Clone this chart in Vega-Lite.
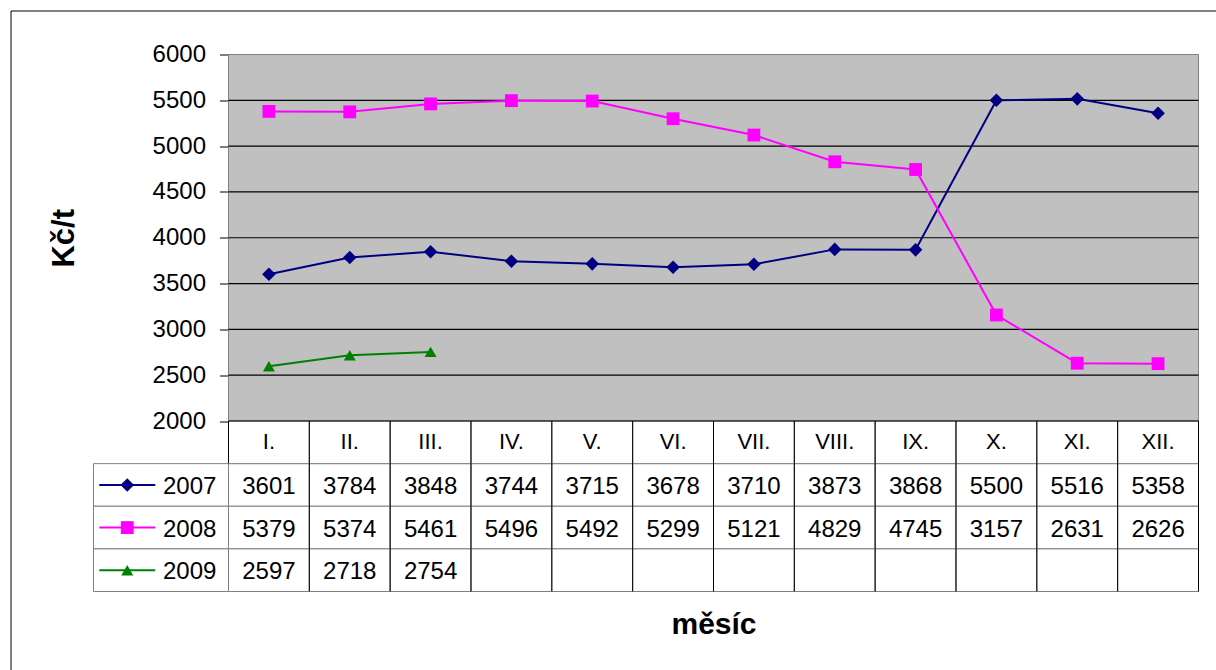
{
  "$schema": "https://vega.github.io/schema/vega-lite/v6.json",
  "width": 1216,
  "height": 670,
  "autosize": {"type": "fit", "contains": "padding"},
  "padding": {"left": 10.5, "top": 10.5, "right": 0, "bottom": 0},
  "background": "white",
  "config": {
    "view": {"stroke": "black", "strokeWidth": 1, "fill": "white"},
    "font": "Liberation Sans",
    "text": {"font": "Liberation Sans", "color": "black"},
    "axisY": {"offset": -218, "grid": false, "domainColor": "black", "domainWidth": 1,
              "tickColor": "black", "tickSize": 9, "labelPadding": 14,
              "labelFontSize": 24, "labelFont": "Liberation Sans", "labelColor": "black",
              "labelFlush": false, "labelOverlap": false,
              "titleFontSize": 31, "titleFont": "Liberation Sans", "titleFontWeight": "bold",
              "titleColor": "black", "titlePadding": 72},
    "axisX": {"offset": -79, "labels": false, "ticks": false, "domain": false, "grid": false,
              "titleFontSize": 30, "titleFont": "Liberation Sans", "titleFontWeight": "bold",
              "titleColor": "black", "titlePadding": 18}
  },
  "datasets": {
    "d": [
      {"m": "I.", "s": "2007", "v": 3601}, {"m": "II.", "s": "2007", "v": 3784}, {"m": "III.", "s": "2007", "v": 3848},
      {"m": "IV.", "s": "2007", "v": 3744}, {"m": "V.", "s": "2007", "v": 3715}, {"m": "VI.", "s": "2007", "v": 3678},
      {"m": "VII.", "s": "2007", "v": 3710}, {"m": "VIII.", "s": "2007", "v": 3873}, {"m": "IX.", "s": "2007", "v": 3868},
      {"m": "X.", "s": "2007", "v": 5500}, {"m": "XI.", "s": "2007", "v": 5516}, {"m": "XII.", "s": "2007", "v": 5358},
      {"m": "I.", "s": "2008", "v": 5379}, {"m": "II.", "s": "2008", "v": 5374}, {"m": "III.", "s": "2008", "v": 5461},
      {"m": "IV.", "s": "2008", "v": 5496}, {"m": "V.", "s": "2008", "v": 5492}, {"m": "VI.", "s": "2008", "v": 5299},
      {"m": "VII.", "s": "2008", "v": 5121}, {"m": "VIII.", "s": "2008", "v": 4829}, {"m": "IX.", "s": "2008", "v": 4745},
      {"m": "X.", "s": "2008", "v": 3157}, {"m": "XI.", "s": "2008", "v": 2631}, {"m": "XII.", "s": "2008", "v": 2626},
      {"m": "I.", "s": "2009", "v": 2597}, {"m": "II.", "s": "2009", "v": 2718}, {"m": "III.", "s": "2009", "v": 2754},
      {"m": "IV.", "s": "2009", "v": null}, {"m": "V.", "s": "2009", "v": null}, {"m": "VI.", "s": "2009", "v": null},
      {"m": "VII.", "s": "2009", "v": null}, {"m": "VIII.", "s": "2009", "v": null}, {"m": "IX.", "s": "2009", "v": null},
      {"m": "X.", "s": "2009", "v": null}, {"m": "XI.", "s": "2009", "v": null}, {"m": "XII.", "s": "2009", "v": null}
    ],
    "months": [
      {"m": "I."}, {"m": "II."}, {"m": "III."}, {"m": "IV."}, {"m": "V."}, {"m": "VI."},
      {"m": "VII."}, {"m": "VIII."}, {"m": "IX."}, {"m": "X."}, {"m": "XI."}, {"m": "XII."}
    ],
    "grid": [{"g": 2500}, {"g": 3000}, {"g": 3500}, {"g": 4000}, {"g": 4500}, {"g": 5000}, {"g": 5500}],
    "series": [{"s": "2007"}, {"s": "2008"}, {"s": "2009"}],
    "one": [{"k": 1}]
  },
  "layer": [
    {
      "layer": [
        {
          "data": {"name": "one"},
          "mark": {"type": "rect", "fill": "#C0C0C0", "stroke": "#808080", "strokeWidth": 1},
          "encoding": {
            "x": {"datum": "I.", "type": "nominal", "bandPosition": 0,
                  "scale": {"type": "band", "domain": ["I.", "II.", "III.", "IV.", "V.", "VI.", "VII.", "VIII.", "IX.", "X.", "XI.", "XII."], "range": [218, 1188], "paddingInner": 0, "paddingOuter": 0},
                  "axis": null},
            "x2": {"datum": "XII.", "bandPosition": 1},
            "y": {"datum": 2000, "type": "quantitative",
                  "scale": {"domain": [2000, 6000], "range": [410.5, 44], "nice": false, "zero": false},
                  "axis": {"title": "Kč/t", "format": "d", "values": [2000, 2500, 3000, 3500, 4000, 4500, 5000, 5500, 6000]}},
            "y2": {"datum": 6000}
          }
        },
        {
          "data": {"name": "grid"},
          "mark": {"type": "rule", "color": "black", "strokeWidth": 1.2},
          "encoding": {
            "x": {"datum": "I.", "type": "nominal", "bandPosition": 0, "axis": null},
            "x2": {"datum": "XII.", "bandPosition": 1},
            "y": {"field": "g", "type": "quantitative",
                  "axis": {"title": "Kč/t", "format": "d", "values": [2000, 2500, 3000, 3500, 4000, 4500, 5000, 5500, 6000]}}
          }
        },
        {
          "data": {"name": "d"},
          "transform": [{"filter": "datum.v != null"}],
          "mark": {"type": "line", "strokeWidth": 2},
          "encoding": {
            "x": {"field": "m", "type": "nominal", "axis": null},
            "y": {"field": "v", "type": "quantitative",
                  "axis": {"title": "Kč/t", "format": "d", "values": [2000, 2500, 3000, 3500, 4000, 4500, 5000, 5500, 6000]}},
            "color": {"field": "s", "type": "nominal",
                      "scale": {"domain": ["2007", "2008", "2009"], "range": ["#000080", "#FF00FF", "#008000"]},
                      "legend": null}
          }
        },
        {
          "data": {"name": "d"},
          "transform": [{"filter": "datum.v != null"}],
          "mark": {"type": "point", "filled": true, "opacity": 1},
          "encoding": {
            "x": {"field": "m", "type": "nominal", "axis": null},
            "y": {"field": "v", "type": "quantitative",
                  "axis": {"title": "Kč/t", "format": "d", "values": [2000, 2500, 3000, 3500, 4000, 4500, 5000, 5500, 6000]}},
            "color": {"field": "s", "type": "nominal",
                      "scale": {"domain": ["2007", "2008", "2009"], "range": ["#000080", "#FF00FF", "#008000"]},
                      "legend": null},
            "shape": {"field": "s", "type": "nominal",
                      "scale": {"domain": ["2007", "2008", "2009"], "range": ["diamond", "square", "triangle-up"]},
                      "legend": null},
            "size": {"field": "s", "type": "nominal",
                     "scale": {"domain": ["2007", "2008", "2009"], "range": [185, 144, 200]},
                     "legend": null}
          }
        }
      ]
    },
    {
      "layer": [
        {
          "data": {"name": "d"},
          "mark": {"type": "rect", "fill": "white", "stroke": "#808080", "strokeWidth": 1},
          "encoding": {
            "x": {"field": "m", "type": "nominal",
                  "scale": {"type": "band", "domain": ["I.", "II.", "III.", "IV.", "V.", "VI.", "VII.", "VIII.", "IX.", "X.", "XI.", "XII."], "range": [218, 1188], "paddingInner": 0, "paddingOuter": 0},
                  "axis": {"title": "měsíc", "orient": "bottom"}},
            "y": {"field": "s", "type": "nominal",
                  "scale": {"type": "band", "domain": ["hdr", "2007", "2008", "2009"], "range": [410.5, 581], "paddingInner": 0, "paddingOuter": 0},
                  "axis": null}
          }
        },
        {
          "data": {"name": "months"},
          "mark": {"type": "rect", "fill": "white", "stroke": "#808080", "strokeWidth": 1},
          "encoding": {
            "x": {"field": "m", "type": "nominal", "axis": {"title": "měsíc", "orient": "bottom"}},
            "y": {"datum": "hdr", "type": "nominal", "axis": null}
          }
        },
        {
          "data": {"name": "months"},
          "mark": {"type": "rule", "color": "black", "strokeWidth": 1},
          "encoding": {
            "x": {"field": "m", "type": "nominal", "bandPosition": 0, "axis": {"title": "měsíc", "orient": "bottom"}},
            "y": {"datum": "hdr", "type": "nominal", "bandPosition": 0, "axis": null},
            "y2": {"datum": "2009", "bandPosition": 1}
          }
        },
        {
          "data": {"name": "one"},
          "mark": {"type": "rule", "color": "black", "strokeWidth": 1},
          "encoding": {
            "x": {"datum": "XII.", "type": "nominal", "bandPosition": 1, "axis": {"title": "měsíc", "orient": "bottom"}},
            "y": {"datum": "hdr", "type": "nominal", "bandPosition": 0, "axis": null},
            "y2": {"datum": "2009", "bandPosition": 1}
          }
        },
        {
          "data": {"name": "one"},
          "mark": {"type": "rule", "color": "black", "strokeWidth": 1},
          "encoding": {
            "x": {"datum": "I.", "type": "nominal", "bandPosition": 0, "axis": {"title": "měsíc", "orient": "bottom"}},
            "x2": {"datum": "XII.", "bandPosition": 1},
            "y": {"datum": "hdr", "type": "nominal", "bandPosition": 0, "axis": null}
          }
        },
        {
          "data": {"name": "months"},
          "mark": {"type": "text", "fontSize": 22, "font": "Liberation Sans", "baseline": "middle", "align": "center", "color": "black"},
          "encoding": {
            "x": {"field": "m", "type": "nominal", "axis": {"title": "měsíc", "orient": "bottom"}},
            "y": {"datum": "hdr", "type": "nominal", "axis": null},
            "text": {"field": "m", "type": "nominal"}
          }
        },
        {
          "data": {"name": "d"},
          "transform": [{"filter": "datum.v != null"}],
          "mark": {"type": "text", "fontSize": 24, "font": "Liberation Sans", "baseline": "middle", "align": "center", "dy": 2, "color": "black"},
          "encoding": {
            "x": {"field": "m", "type": "nominal", "axis": {"title": "měsíc", "orient": "bottom"}},
            "y": {"field": "s", "type": "nominal", "axis": null},
            "text": {"field": "v", "type": "quantitative", "format": "d"}
          }
        }
      ]
    },
    {
      "layer": [
        {
          "data": {"name": "series"},
          "mark": {"type": "rect", "fill": "white", "stroke": "#808080", "strokeWidth": 1},
          "encoding": {
            "x": {"datum": "sym", "type": "nominal", "bandPosition": 0,
                  "scale": {"type": "band", "domain": ["sym", "lab"], "range": [83, 218], "paddingInner": 0, "paddingOuter": 0},
                  "axis": null},
            "x2": {"datum": "lab", "bandPosition": 1},
            "y": {"field": "s", "type": "nominal",
                  "scale": {"type": "band", "domain": ["hdr", "2007", "2008", "2009"], "range": [410.5, 581], "paddingInner": 0, "paddingOuter": 0},
                  "axis": null}
          }
        },
        {
          "data": {"name": "series"},
          "mark": {"type": "tick", "orient": "horizontal", "size": 56, "thickness": 2, "opacity": 1},
          "encoding": {
            "x": {"datum": "sym", "type": "nominal", "axis": null},
            "y": {"field": "s", "type": "nominal", "axis": null},
            "color": {"field": "s", "type": "nominal",
                      "scale": {"domain": ["2007", "2008", "2009"], "range": ["#000080", "#FF00FF", "#008000"]},
                      "legend": null}
          }
        },
        {
          "data": {"name": "series"},
          "mark": {"type": "point", "filled": true, "opacity": 1},
          "encoding": {
            "x": {"datum": "sym", "type": "nominal", "axis": null},
            "y": {"field": "s", "type": "nominal", "axis": null},
            "color": {"field": "s", "type": "nominal",
                      "scale": {"domain": ["2007", "2008", "2009"], "range": ["#000080", "#FF00FF", "#008000"]},
                      "legend": null},
            "shape": {"field": "s", "type": "nominal",
                      "scale": {"domain": ["2007", "2008", "2009"], "range": ["diamond", "square", "triangle-up"]},
                      "legend": null},
            "size": {"field": "s", "type": "nominal",
                     "scale": {"domain": ["2007", "2008", "2009"], "range": [185, 144, 200]},
                     "legend": null}
          }
        },
        {
          "data": {"name": "series"},
          "mark": {"type": "text", "fontSize": 24, "font": "Liberation Sans", "baseline": "middle", "align": "left", "dx": 2, "dy": 2, "color": "black"},
          "encoding": {
            "x": {"datum": "lab", "type": "nominal", "bandPosition": 0, "axis": null},
            "y": {"field": "s", "type": "nominal", "axis": null},
            "text": {"field": "s", "type": "nominal"}
          }
        }
      ]
    }
  ],
  "resolve": {"scale": {"x": "independent", "y": "independent"}}
}
